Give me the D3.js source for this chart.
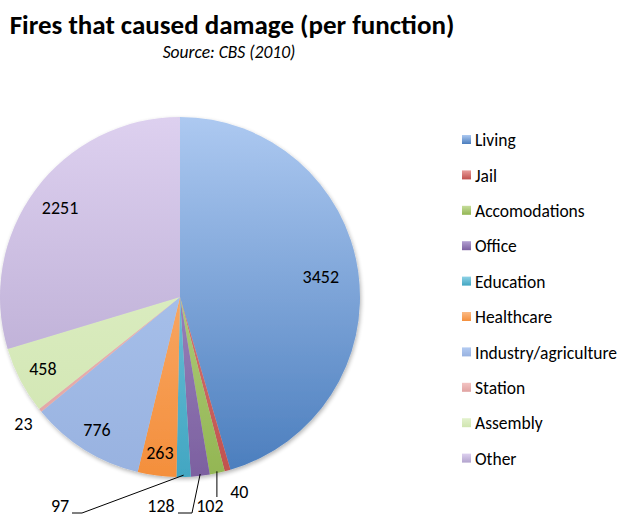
<!DOCTYPE html>
<html>
<head>
<meta charset="utf-8">
<script src="https://cdn.jsdelivr.net/npm/d3@7"></script>
<style>
  body { margin: 0; background: #fff; }
  text { font-family: Carlito, "Open Sans", sans-serif; }
</style>
</head>
<body>
<div id="chart"></div>
<script>
// data
const categories = ["Living", "Jail", "Accomodations", "Office", "Education",
    "Healthcare", "Industry/agriculture", "Station", "Assembly", "Other"];
const fires = [3452, 40, 102, 128, 97, 263, 776, 23, 458, 2251];
// light (top) and dark (bottom) end of each slice gradient
const topColors = ["#adc9f1", "#e99c9a", "#c6dd9c", "#b3a0d2", "#8ed2e6", "#fbbb86",
    "#b3cbf2", "#f3c4c3", "#e3f2cd", "#ddd0ef"];
const bottomColors = ["#4a7dbd", "#c0504d", "#93b653", "#7c60a0", "#42a6c2", "#f48f3c",
    "#98b2e0", "#e0a2a1", "#d0e5b0", "#b2a3cd"];

const width = 622, height = 517;
const cx = 180, cy = 297, r = 180;

var svg = d3.select("#chart").append("svg")
    .attr("width", width)
    .attr("height", height);

var defs = svg.append("defs");

// one vertical gradient per slice, spanning the whole pie
categories.forEach(function(c, i) {
    var g = defs.append("linearGradient")
        .attr("id", "grad" + i)
        .attr("gradientUnits", "userSpaceOnUse")
        .attr("x1", 0).attr("y1", -r)
        .attr("x2", 0).attr("y2", r);
    g.append("stop").attr("offset", "0%").attr("stop-color", topColors[i]);
    g.append("stop").attr("offset", "100%").attr("stop-color", bottomColors[i]);

    var lg = defs.append("linearGradient")
        .attr("id", "lgrad" + i)
        .attr("x1", 0).attr("y1", 0).attr("x2", 0).attr("y2", 1);
    lg.append("stop").attr("offset", "0%").attr("stop-color", topColors[i]);
    lg.append("stop").attr("offset", "100%").attr("stop-color", bottomColors[i]);
});

var shadow = defs.append("filter").attr("id", "shadow")
    .attr("x", "-10%").attr("y", "-10%").attr("width", "120%").attr("height", "120%");
shadow.append("feGaussianBlur").attr("in", "SourceAlpha").attr("stdDeviation", 2);
shadow.append("feOffset").attr("dx", 1).attr("dy", 2).attr("result", "b");
shadow.append("feComponentTransfer").append("feFuncA").attr("type", "linear").attr("slope", 0.3);
var merge = shadow.append("feMerge");
merge.append("feMergeNode");
merge.append("feMergeNode").attr("in", "SourceGraphic");

// title
svg.append("text")
    .attr("x", 232).attr("y", 34)
    .attr("text-anchor", "middle")
    .style("font-size", "27px")
    .style("font-weight", "bold")
    .text("Fires that caused damage (per function)");

svg.append("text")
    .attr("x", 229).attr("y", 58)
    .attr("text-anchor", "middle")
    .style("font-size", "17.5px")
    .style("font-style", "italic")
    .text("Source: CBS (2010)");

var pie = d3.pie().sort(null).value(function(d) { return d; });
var arcs = pie(fires);

var arc = d3.arc().innerRadius(0).outerRadius(r);

var g = svg.append("g").attr("transform", "translate(" + cx + "," + cy + ")");

g.append("g").attr("filter", "url(#shadow)")
    .selectAll("path")
    .data(arcs)
    .enter()
    .append("path")
        .attr("d", arc)
        .style("fill", function(_, i) { return "url(#grad" + i + ")"; });

// label placement: inside labels on the mid angle, small slices outside
function polar(a, rad) {
    return [Math.sin(a) * rad, -Math.cos(a) * rad];
}
function mid(d) { return (d.startAngle + d.endAngle) / 2; }

var labelSize = "18px";
var inside = [0, 5, 6, 8, 9];
var insideRad = {0: 0.79, 5: 0.87, 6: 0.87, 8: 0.86, 9: 0.83};

arcs.forEach(function(d, i) {
    var a = mid(d);
    if (inside.indexOf(i) >= 0) {
        var p = polar(a, r * insideRad[i]);
        g.append("text")
            .attr("x", p[0]).attr("y", p[1])
            .attr("dy", "0.35em")
            .attr("text-anchor", "middle")
            .style("font-size", labelSize)
            .text(fires[i]);
    }
});

// outside labels without leaders: Station, Jail
[[7, 1.12, 0], [1, 1.12, 6]].forEach(function(o) {
    var d = arcs[o[0]];
    var p = polar(mid(d), r * o[1]);
    g.append("text")
        .attr("x", p[0] + o[2]).attr("y", p[1])
        .attr("dy", "0.35em")
        .attr("text-anchor", "middle")
        .style("font-size", labelSize)
        .text(fires[o[0]]);
});

// leader lines: Office, Education
var leaderY = 216;
function leader(i, bendX, tailX, labelX) {
    var d = arcs[i];
    var p = polar(mid(d), r * 0.99);
    var pts = [p, [bendX, leaderY], [tailX, leaderY]];
    g.append("path")
        .attr("d", d3.line()(pts))
        .style("fill", "none")
        .style("stroke", "#000")
        .style("stroke-width", 1);
    g.append("text")
        .attr("x", labelX).attr("y", leaderY - 7)
        .attr("dy", "0.35em")
        .attr("text-anchor", "middle")
        .style("font-size", labelSize)
        .text(fires[i]);
}
// Accomodations: straight down, label under the line
(function() {
    var d = arcs[2];
    var p = polar(mid(d), r * 0.99);
    g.append("line")
        .attr("x1", p[0]).attr("y1", p[1])
        .attr("x2", p[0]).attr("y2", 200)
        .style("stroke", "#000");
    g.append("text")
        .attr("x", p[0] - 7).attr("y", 209)
        .attr("dy", "0.35em")
        .attr("text-anchor", "middle")
        .style("font-size", labelSize)
        .text(fires[2]);
})();
leader(3, 12, -2, -19);
leader(4, -98, -108, -120);

// legend
var legend = svg.append("g").attr("transform", "translate(462,0)");
categories.forEach(function(c, i) {
    var y = 140 + i * 35.4;
    legend.append("rect")
        .attr("x", 0).attr("y", y - 5)
        .attr("width", 9).attr("height", 9)
        .style("fill", "url(#lgrad" + i + ")");
    legend.append("text")
        .attr("x", 13).attr("y", y)
        .attr("dy", "0.35em")
        .style("font-size", "17.5px")
        .text(c);
});
</script>
</body>
</html>
